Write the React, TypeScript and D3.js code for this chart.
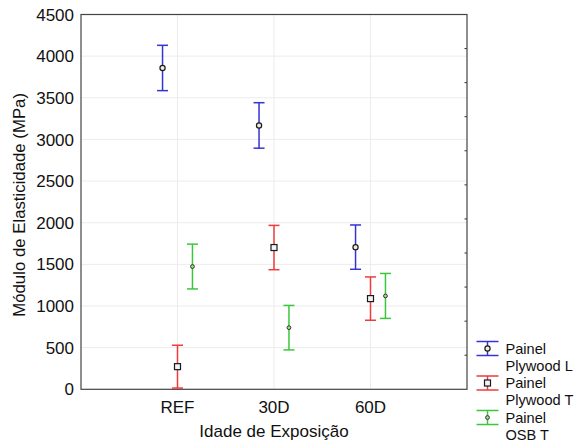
import React from "react";
import * as d3 from "d3";

const categories = ["REF", "30D", "60D"];
const seriesNames = [["Painel", "Plywood L"], ["Painel", "Plywood T"], ["Painel", "OSB T"]];
const meanPlywoodL = [3858, 3168, 1707];
const errPlywoodL = [272, 273, 266];
const meanPlywoodT = [272, 1702, 1089];
const errPlywoodT = [257, 266, 260];
const meanOSBT = [1474, 740, 1121];
const errOSBT = [269, 267, 270];
const yTicks = [0, 500, 1000, 1500, 2000, 2500, 3000, 3500, 4000, 4500];

const colors = ["#3434d6", "#ef3b3b", "#3cc63c"];
const offsets = [-0.155, 0, 0.155];
const markers = ["circle", "square", "dot"];

const W = 576, H = 444;
const M = { left: 81, right: 467, top: 14.5, bottom: 389.3 };

function Marker({ type, x, y }: { type: string; x: number; y: number }) {
  if (type === "circle") return <circle cx={x} cy={y} r={2.6} fill="#eeeed8" stroke="#1a1a1a" strokeWidth={1.2} />;
  if (type === "square") return <rect x={x - 3} y={y - 3} width={6} height={6} fill="#eef6fa" stroke="#1a1a1a" strokeWidth={1.2} />;
  return <circle cx={x} cy={y} r={1.9} fill="#a8d890" stroke="#333" strokeWidth={1} />;
}

export default function App() {
  const x = d3.scaleLinear().domain([0, 4]).range([M.left, M.right]);
  const y = d3.scaleLinear().domain([0, 4500]).range([M.bottom, M.top]);
  const yR = d3.scaleLinear().domain([0, 11]).range([M.bottom, M.top]);
  const means = [meanPlywoodL, meanPlywoodT, meanOSBT];
  const errs = [errPlywoodL, errPlywoodT, errOSBT];
  const font = "'Liberation Sans', Arial, sans-serif";
  const cap = 5.5;
  return (
    <svg width={W} height={H} style={{ position: "absolute", left: 0, top: 0, background: "#fff" }} fontFamily={font}>
      {yTicks.slice(1, -1).map((t) => (
        <line key={"gy" + t} x1={M.left} x2={M.right} y1={y(t)} y2={y(t)} stroke="#ececec" strokeWidth={1} />
      ))}
      {categories.map((c, i) => (
        <line key={"gx" + c} x1={x(i + 1)} x2={x(i + 1)} y1={M.top} y2={M.bottom} stroke="#ececec" strokeWidth={1} />
      ))}
      {d3.range(1, 11).map((k) => (
        <line key={"rt" + k} x1={M.right - 2.5} x2={M.right} y1={yR(k)} y2={yR(k)} stroke="#333" strokeWidth={1} />
      ))}
      <rect x={M.left} y={M.top} width={M.right - M.left} height={M.bottom - M.top} fill="none" stroke="#444" strokeWidth={1.2} />
      {yTicks.map((t) => (
        <text key={"yl" + t} x={74} y={y(t)} dy="0.36em" textAnchor="end" fontSize={17} fill="#111">{t}</text>
      ))}
      {categories.map((c, i) => (
        <text key={"xl" + c} x={x(i + 1)} y={413} textAnchor="middle" fontSize={17} fill="#111">{c}</text>
      ))}
      <text x={(M.left + M.right) / 2} y={437} textAnchor="middle" fontSize={17} fill="#111">Idade de Exposição</text>
      <text transform={`translate(25,${(M.top + M.bottom) / 2 + 3}) rotate(-90)`} textAnchor="middle" fontSize={16.8} fill="#111">Módulo de Elasticidade (MPa)</text>
      {means.map((ms, s) => (
        <g key={"s" + s}>
          {ms.map((m, i) => {
            const cx = x(i + 1 + offsets[s]);
            const hi = y(m + errs[s][i]);
            const lo = y(Math.max(0, m - errs[s][i]));
            return (
              <g key={"b" + i}>
                <line x1={cx} x2={cx} y1={hi} y2={lo} stroke={colors[s]} strokeWidth={1.5} />
                <line x1={cx - cap} x2={cx + cap} y1={hi} y2={hi} stroke={colors[s]} strokeWidth={1.5} />
                <line x1={cx - cap} x2={cx + cap} y1={lo} y2={lo} stroke={colors[s]} strokeWidth={1.5} />
                <Marker type={markers[s]} x={cx} y={y(m)} />
              </g>
            );
          })}
        </g>
      ))}
      {seriesNames.map((nm, s) => {
        const ly = 348.5 + s * 34.5;
        const lx = 487.5;
        return (
          <g key={"lg" + s}>
            <line x1={lx} x2={lx} y1={ly - 7} y2={ly + 7} stroke={colors[s]} strokeWidth={1.5} />
            <line x1={lx - 11} x2={lx + 11} y1={ly - 7} y2={ly - 7} stroke={colors[s]} strokeWidth={1.5} />
            <line x1={lx - 11} x2={lx + 11} y1={ly + 7} y2={ly + 7} stroke={colors[s]} strokeWidth={1.5} />
            <Marker type={markers[s]} x={lx} y={ly} />
            <text x={505.5} y={ly + 5} fontSize={14.6} fill="#111">{nm[0]}</text>
            <text x={505.5} y={ly + 22} fontSize={14.6} fill="#111">{nm[1]}</text>
          </g>
        );
      })}
    </svg>
  );
}
